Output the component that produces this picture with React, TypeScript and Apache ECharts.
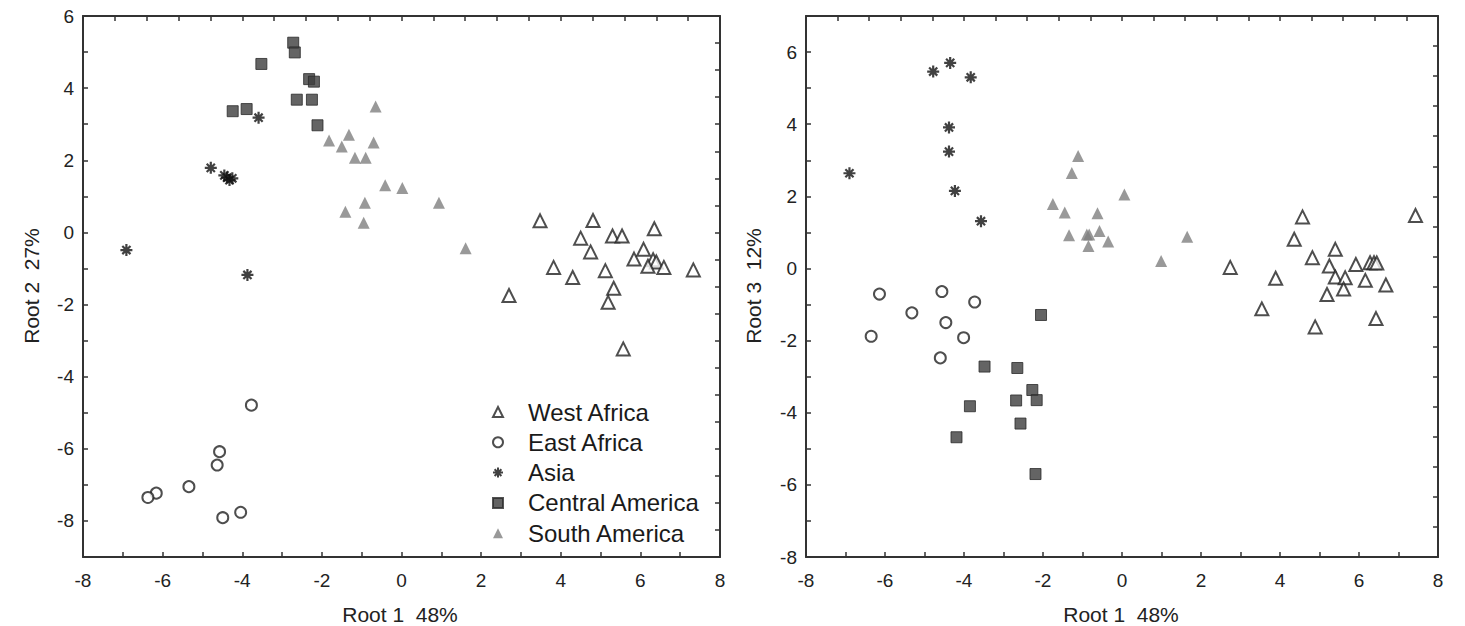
import React, { useEffect, useRef } from "react";
import * as echarts from "echarts";

// Root 1 vs Root 2 (left panel)
const westAfricaR12 = [[3.48,0.32],[4.81,0.33],[6.35,0.10],[4.50,-0.16],[5.30,-0.10],[5.54,-0.10],[6.08,-0.47],[4.75,-0.54],[5.84,-0.74],[6.32,-0.76],[6.40,-0.82],[6.19,-0.94],[6.59,-0.97],[7.33,-1.04],[3.82,-0.97],[5.12,-1.06],[4.30,-1.25],[5.33,-1.55],[5.19,-1.94],[2.70,-1.75],[5.57,-3.23]];
const eastAfricaR12 = [[-3.77,-4.79],[-4.57,-6.08],[-4.63,-6.45],[-5.34,-7.05],[-6.16,-7.23],[-6.37,-7.35],[-4.04,-7.76],[-4.49,-7.91]];
const asiaR12 = [[-3.59,3.18],[-4.79,1.79],[-4.45,1.58],[-4.38,1.52],[-4.32,1.45],[-4.25,1.50],[-6.91,-0.49],[-3.87,-1.18]];
const centralAmericaR12 = [[-2.72,5.26],[-2.68,4.99],[-3.52,4.67],[-2.32,4.25],[-2.20,4.18],[-2.63,3.68],[-2.25,3.68],[-4.24,3.36],[-3.89,3.42],[-2.11,2.97]];
const southAmericaR12 = [[-0.65,3.49],[-1.82,2.55],[-1.32,2.71],[-1.50,2.38],[-0.70,2.49],[-1.17,2.07],[-0.90,2.07],[-0.41,1.31],[0.02,1.23],[-0.92,0.82],[-1.41,0.57],[-0.95,0.27],[0.94,0.82],[1.61,-0.44]];

// Root 1 vs Root 3 (right panel)
const westAfricaR13 = [[4.57,1.43],[7.43,1.47],[4.36,0.81],[5.40,0.53],[4.82,0.30],[5.25,0.07],[5.92,0.11],[6.28,0.16],[6.38,0.16],[6.45,0.15],[2.74,0.03],[3.89,-0.27],[5.40,-0.24],[5.65,-0.26],[6.16,-0.33],[6.68,-0.46],[5.61,-0.57],[5.19,-0.72],[3.54,-1.12],[6.43,-1.39],[4.89,-1.62]];
const eastAfricaR13 = [[-6.14,-0.71],[-4.56,-0.64],[-3.73,-0.93],[-5.32,-1.23],[-4.46,-1.50],[-6.35,-1.88],[-4.01,-1.92],[-4.60,-2.48]];
const asiaR13 = [[-6.90,2.64],[-4.78,5.46],[-4.35,5.70],[-3.83,5.30],[-4.38,3.91],[-4.38,3.24],[-4.23,2.15],[-3.57,1.31]];
const centralAmericaR13 = [[-2.05,-1.29],[-3.48,-2.72],[-2.65,-2.76],[-2.27,-3.37],[-2.16,-3.65],[-2.68,-3.66],[-3.85,-3.82],[-2.57,-4.30],[-4.19,-4.68],[-2.19,-5.70]];
const southAmericaR13 = [[-1.75,1.79],[-1.45,1.55],[-1.11,3.12],[-1.27,2.65],[-1.34,0.92],[-0.89,0.94],[-0.83,0.94],[-0.62,1.53],[-0.57,1.04],[-0.85,0.62],[-0.35,0.75],[0.06,2.05],[1.65,0.88],[0.99,0.21]];

const groupNames = ["West Africa", "East Africa", "Asia", "Central America", "South America"];
const xTitle = "Root 1  48%";
const yTitleLeft = "Root 2  27%";
const yTitleRight = "Root 3  12%";

const FONT = 'Arial, "Liberation Sans", sans-serif';
const AX = "#333";
const STAR = "path://M0,5L10,5M5,0L5,10M1.6,1.6L8.4,8.4M8.4,1.6L1.6,8.4";

const styles: any = {
  "West Africa": { symbol: "triangle", symbolSize: 13, itemStyle: { color: "#fff", borderColor: "#222", borderWidth: 2 } },
  "East Africa": { symbol: "circle", symbolSize: 11, itemStyle: { color: "#fff", borderColor: "#222", borderWidth: 2 } },
  "Asia": { symbol: STAR, symbolSize: 12, itemStyle: { color: "transparent", borderColor: "#111", borderWidth: 2.2 } },
  "Central America": { symbol: "rect", symbolSize: 11, itemStyle: { color: "#3d3d3d", borderColor: "#2a2a2a", borderWidth: 1 } },
  "South America": { symbol: "triangle", symbolSize: 12, itemStyle: { color: "#808080" } },
};

const leftData = [westAfricaR12, eastAfricaR12, asiaR12, centralAmericaR12, southAmericaR12];
const rightData = [westAfricaR13, eastAfricaR13, asiaR13, centralAmericaR13, southAmericaR13];

function mainX(gi: number) {
  return {
    type: "value", gridIndex: gi, position: "bottom", min: -8, max: 8, interval: 1,
    axisLine: { show: true, onZero: false, lineStyle: { color: AX, width: 2 } },
    axisTick: { show: true, inside: true, length: 5, lineStyle: { color: AX, width: 1.5 } },
    axisLabel: { show: true, margin: 14, fontSize: 19, color: "#222", fontFamily: FONT, showMinLabel: true, showMaxLabel: true,
      formatter: (v: number) => (v % 2 === 0 ? String(v) : "") },
    splitLine: { show: false },
  };
}
function mainY(gi: number, min: number, max: number) {
  return {
    type: "value", gridIndex: gi, position: "left", min, max, interval: 1,
    axisLine: { show: true, onZero: false, lineStyle: { color: AX, width: 2 } },
    axisTick: { show: true, inside: true, length: 5, lineStyle: { color: AX, width: 1.5 } },
    axisLabel: { show: true, margin: 9, fontSize: 19, color: "#222", fontFamily: FONT, showMinLabel: true, showMaxLabel: true,
      formatter: (v: number) => (v % 2 === 0 ? String(v) : "") },
    splitLine: { show: false },
  };
}
function frameAxis(kind: "x" | "y", gi: number, max: number) {
  return {
    type: "value", gridIndex: gi, position: kind === "x" ? "top" : "right", min: 0, max, interval: 1,
    axisLine: { show: true, onZero: false, lineStyle: { color: AX, width: 2 } },
    axisTick: { show: true, inside: true, length: 5, lineStyle: { color: AX, width: 1.5 } },
    axisLabel: { show: false },
    splitLine: { show: false },
  };
}

export default function App() {
  const ref = useRef<HTMLDivElement>(null);
  useEffect(() => {
    if (!ref.current) return;
    const chart = echarts.init(ref.current, null, { renderer: "svg" });
    const series: any[] = [];
    groupNames.forEach((name, i) => {
      series.push({ type: "scatter", name, xAxisIndex: 0, yAxisIndex: 0, data: leftData[i], ...styles[name] });
      series.push({ type: "scatter", name, xAxisIndex: 2, yAxisIndex: 2, data: rightData[i], ...styles[name] });
    });
    chart.setOption({
      animation: false,
      backgroundColor: "#fff",
      grid: [
        { left: 83, top: 16, width: 637, height: 541 },
        { left: 806, top: 16, width: 632, height: 541 },
      ],
      xAxis: [mainX(0), frameAxis("x", 0, 20), mainX(1), frameAxis("x", 1, 20)],
      yAxis: [mainY(0, -9, 6), frameAxis("y", 0, 20), mainY(1, -8, 7), frameAxis("y", 1, 18)],
      legend: {
        orient: "vertical", left: 487, top: 395, itemWidth: 10, itemHeight: 10, itemGap: 6.3,
        selectedMode: false,
        data: groupNames,
        textStyle: { fontSize: 24, fontFamily: FONT, color: "#1a1a1a", lineHeight: 24, padding: [0, 0, 0, 20] },
      },
      graphic: [
        { type: "text", x: 400, y: 614, style: { text: xTitle, fontSize: 21, fontFamily: FONT, fill: "#222", align: "center", verticalAlign: "middle" } },
        { type: "text", x: 1121, y: 614, style: { text: xTitle, fontSize: 21, fontFamily: FONT, fill: "#222", align: "center", verticalAlign: "middle" } },
        { type: "text", x: 31, y: 286, rotation: Math.PI / 2, style: { text: yTitleLeft, fontSize: 21, fontFamily: FONT, fill: "#222", align: "center", verticalAlign: "middle" } },
        { type: "text", x: 753, y: 286, rotation: Math.PI / 2, style: { text: yTitleRight, fontSize: 21, fontFamily: FONT, fill: "#222", align: "center", verticalAlign: "middle" } },
      ],
      series,
    });
    return () => chart.dispose();
  }, []);
  return <div ref={ref} style={{ position: "fixed", left: 0, top: 0, width: 1465, height: 626 }} />;
}
